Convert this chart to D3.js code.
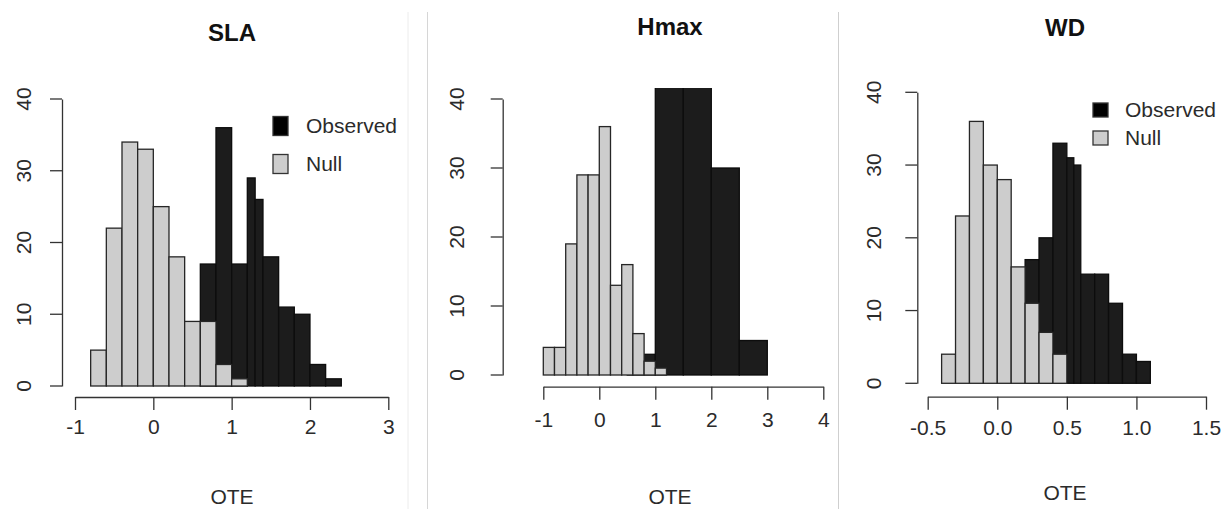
<!DOCTYPE html>
<html>
<head>
<meta charset="utf-8">
<script src="https://cdn.jsdelivr.net/npm/d3@7"></script>
<style>
  html, body { margin: 0; padding: 0; background: #fff; }
  svg text { font-family: "Liberation Sans", Arial, sans-serif; fill: #2b2b2b; }
  .tick line, .domain { stroke: #333; stroke-width: 1.3; }
</style>
</head>
<body>
<div id="chart"></div>
<script>
// panel titles
var panelTitles = ['SLA', 'Hmax', 'WD'];

// SLA bins (edges + counts)
var slaNullEdges = [-0.8, -0.6, -0.4, -0.2, 0, 0.2, 0.4, 0.6, 0.8, 1.0, 1.2];
var slaNullCounts = [5, 22, 34, 33, 25, 18, 9, 9, 3, 1];
var slaObsEdges = [0.6, 0.8, 1.0, 1.2, 1.3, 1.4, 1.6, 1.8, 2.0, 2.2, 2.4];
var slaObsCounts = [17, 36, 17, 29, 26, 18, 11, 10, 3, 1];

// Hmax bins
var hmaxNullEdges = [-1.0, -0.8, -0.6, -0.4, -0.2, 0, 0.2, 0.4, 0.6, 0.8, 1.0, 1.2];
var hmaxNullCounts = [4, 4, 19, 29, 29, 36, 13, 16, 6, 2, 1];
var hmaxObsEdges = [0.5, 1.0, 1.5, 2.0, 2.5, 3.0];
var hmaxObsCounts = [3, 42, 42, 30, 5];

// WD bins
var wdNullEdges = [-0.4, -0.3, -0.2, -0.1, 0, 0.1, 0.2, 0.3, 0.4, 0.5];
var wdNullCounts = [4, 23, 36, 30, 28, 16, 11, 7, 4];
var wdObsEdges = [0.2, 0.3, 0.4, 0.5, 0.55, 0.6, 0.7, 0.8, 0.9, 1.0, 1.1];
var wdObsCounts = [17, 20, 33, 31, 30, 15, 15, 11, 4, 3];

// axis ticks
var slaXTicks = [-1, 0, 1, 2, 3];
var hmaxXTicks = [-1, 0, 1, 2, 3, 4];
var wdXTicks = [-0.5, 0, 0.5, 1.0, 1.5];
var yTicks = [0, 10, 20, 30, 40];

var legendLabels = ['Observed', 'Null'];
var xLabel = 'OTE';

var width = 1224;
var height = 509;

var svg = d3.select('#chart')
    .append('svg')
    .attr('width', width)
    .attr('height', height);

// faint panel separators
svg.append('line').attr('x1', 408).attr('x2', 408).attr('y1', 12).attr('y2', height)
    .style('stroke', '#ececec').style('stroke-width', 1);
svg.append('line').attr('x1', 427.5).attr('x2', 427.5).attr('y1', 12).attr('y2', height)
    .style('stroke', '#d6d6d6').style('stroke-width', 1);
svg.append('line').attr('x1', 838.5).attr('x2', 838.5).attr('y1', 12).attr('y2', height)
    .style('stroke', '#cfcfcf').style('stroke-width', 1);

// R prints a plain hyphen for negatives
function rFormat(spec) {
    var f = d3.format(spec);
    return function (d) {return f(d).replace('\u2212', '-');};
}

function toBins(edges, counts) {
    return counts.map(function (c, i) {return {x0: edges[i], x1: edges[i + 1], count: c};});
}

function drawPanel(p, idx) {
    var x = d3.scaleLinear().domain(p.xDomain).range(p.xRange);
    var y = d3.scaleLinear().domain([0, 40]).range(p.yRange);

    var g = svg.append('g').attr('class', 'panel');

    // R clips the plot region at 4% beyond ylim
    var clipId = 'clip' + idx;
    svg.append('clipPath').attr('id', clipId)
        .append('rect')
        .attr('x', p.xRange[0] - 40)
        .attr('y', y(41.6))
        .attr('width', p.xRange[1] - p.xRange[0] + 80)
        .attr('height', y(-2) - y(41.6));

    var bars = g.append('g').attr('clip-path', 'url(#' + clipId + ')');

    bars.selectAll('rect.obs')
        .data(toBins(p.obsEdges, p.obsCounts))
        .enter()
        .append('rect')
        .attr('class', 'obs')
        .attr('x', function (d) {return x(d.x0);})
        .attr('y', function (d) {return y(d.count);})
        .attr('width', function (d) {return x(d.x1) - x(d.x0);})
        .attr('height', function (d) {return y(0) - y(d.count);})
        .style('fill', '#1c1c1c')
        .style('stroke', '#0d0d0d')
        .style('stroke-width', 1.3);

    bars.selectAll('rect.null')
        .data(toBins(p.nullEdges, p.nullCounts))
        .enter()
        .append('rect')
        .attr('class', 'null')
        .attr('x', function (d) {return x(d.x0);})
        .attr('y', function (d) {return y(d.count);})
        .attr('width', function (d) {return x(d.x1) - x(d.x0);})
        .attr('height', function (d) {return y(0) - y(d.count);})
        .style('fill', '#cdcdcd')
        .style('stroke', '#262626')
        .style('stroke-width', 1.3);

    // y axis
    var yAxis = g.append('g')
        .attr('transform', 'translate(' + p.yAxisX + ',0)')
        .call(d3.axisLeft(y).tickValues(yTicks).tickSize(12).tickSizeOuter(0).tickFormat(rFormat('d')));
    yAxis.selectAll('text')
        .attr('x', null).attr('dy', null)
        .attr('transform', function (d) {return 'translate(' + (-p.yLabelOff) + ',' + y(d) + ') rotate(-90)';})
        .attr('y', 0)
        .attr('dy', '0.35em')
        .style('text-anchor', 'middle')
        .style('font-size', '21px');
    yAxis.selectAll('.tick').attr('transform', 'translate(0,0)');
    yAxis.selectAll('.tick line').attr('y1', function (d) {return y(d);}).attr('y2', function (d) {return y(d);});

    // x axis
    var xAxis = g.append('g')
        .attr('transform', 'translate(0,' + p.xAxisY + ')')
        .call(d3.axisBottom(x).tickValues(p.xTicks).tickSize(13).tickSizeOuter(0).tickFormat(p.xFormat));
    xAxis.selectAll('text')
        .attr('y', p.xLabelOff)
        .attr('dy', '0.35em')
        .style('font-size', '21px');

    g.selectAll('.domain').style('fill', 'none');
    g.selectAll('.tick text').style('fill', '#2b2b2b');

    // title
    g.append('text')
        .attr('x', p.titleX)
        .attr('y', p.titleY)
        .attr('dy', '0.35em')
        .style('text-anchor', 'middle')
        .style('font-size', '24px')
        .style('font-weight', 'bold')
        .style('fill', '#111')
        .text(panelTitles[idx]);

    // x label
    g.append('text')
        .attr('x', p.titleX)
        .attr('y', p.xLabY)
        .attr('dy', '0.35em')
        .style('text-anchor', 'middle')
        .style('font-size', '21px')
        .text(xLabel);

    // legend
    if (p.legend) {
        var lg = g.selectAll('.legend')
            .data(legendLabels)
            .enter()
            .append('g')
            .attr('class', 'legend')
            .attr('transform', function (d, i) {return 'translate(' + p.legend.x + ',' + p.legend.ys[i] + ')';});
        lg.append('rect')
            .attr('x', 0)
            .attr('y', -p.legend.h / 2)
            .attr('width', p.legend.w)
            .attr('height', p.legend.h)
            .style('fill', function (d, i) {return i === 0 ? '#000' : '#cdcdcd';})
            .style('stroke', '#333')
            .style('stroke-width', 1.3);
        lg.append('text')
            .attr('x', p.legend.textX)
            .attr('dy', '0.35em')
            .style('font-size', '21px')
            .text(function (d) {return d;});
    }
}

var panels = [
    {
        xDomain: [-1, 3], xRange: [75, 388.3], yRange: [386, 99],
        yAxisX: 62, xAxisY: 397, yLabelOff: 38, xLabelOff: 30,
        xTicks: slaXTicks, xFormat: rFormat('d'),
        nullEdges: slaNullEdges, nullCounts: slaNullCounts,
        obsEdges: slaObsEdges, obsCounts: slaObsCounts,
        titleX: 232, titleY: 33, xLabY: 497,
        legend: {x: 273, ys: [126, 164], w: 15, h: 19, textX: 33}
    },
    {
        xDomain: [-1, 4], xRange: [543.3, 823.3], yRange: [375, 99],
        yAxisX: 502.7, xAxisY: 386.7, yLabelOff: 46, xLabelOff: 33,
        xTicks: hmaxXTicks, xFormat: rFormat('d'),
        nullEdges: hmaxNullEdges, nullCounts: hmaxNullCounts,
        obsEdges: hmaxObsEdges, obsCounts: hmaxObsCounts,
        titleX: 670, titleY: 27, xLabY: 497,
        legend: null
    },
    {
        xDomain: [-0.5, 1.5], xRange: [927.7, 1206], yRange: [383.3, 92.3],
        yAxisX: 917.3, xAxisY: 396.7, yLabelOff: 44, xLabelOff: 31,
        xTicks: wdXTicks, xFormat: rFormat('.1f'),
        nullEdges: wdNullEdges, nullCounts: wdNullCounts,
        obsEdges: wdObsEdges, obsCounts: wdObsCounts,
        titleX: 1065, titleY: 28, xLabY: 493,
        legend: {x: 1093, ys: [110, 138], w: 15, h: 14, textX: 32}
    }
];

panels.forEach(function (p, i) {drawPanel(p, i);});
</script>
</body>
</html>
